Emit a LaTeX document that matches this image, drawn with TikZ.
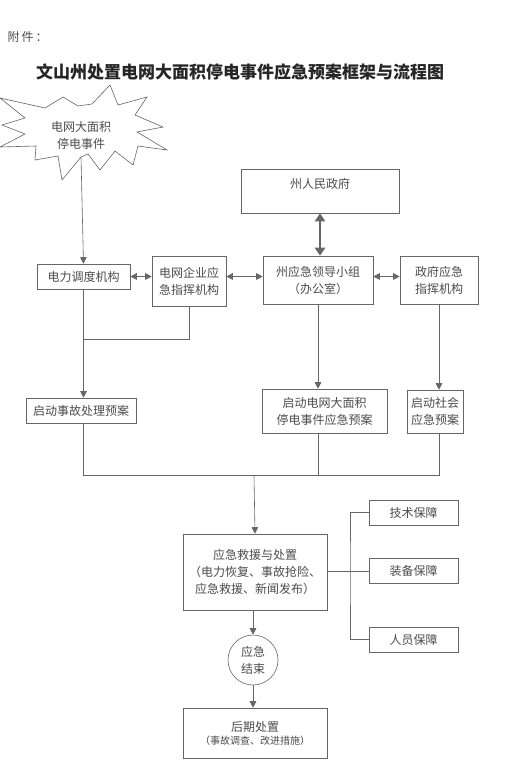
\documentclass[tikz,border=0pt]{standalone}
\usepackage{fontspec}
\newfontfamily\cjk{Noto Sans CJK SC}
\usetikzlibrary{arrows.meta}

\tikzset{
  box/.style={draw=black!60, line width=0.6pt, align=center, inner sep=0pt},
  link/.style={draw=black!60, line width=0.6pt},
  arr/.style={link, -{Triangle[width=6.5pt,length=6.5pt]}},
  biarr/.style={link, {Triangle[width=6.5pt,length=6.5pt]}-{Triangle[width=6.5pt,length=6.5pt]}},
}

\begin{document}
\begin{tikzpicture}[x=1pt, y=-1pt, font=\cjk\fontsize{12}{17}\selectfont, text=black!70]

    \useasboundingbox[fill=white] (0,0) rectangle (504,768);

    % Heading
    \node[anchor=west] (attach) at (4,37) {附\,件\,：};
    \node[font=\cjk\bfseries\fontsize{17}{20}\selectfont, text=black!85] (title) at (240,72) {文山州处置电网大面积停电事件应急预案框架与流程图};

    % Star for the event
    \draw[link, fill=white] (110,85) -- (118,105) -- (147,97) -- (135,115) -- (163,127) -- (137,132)
        -- (167,150) -- (138,146) -- (133,165) -- (115,151) -- (100,170) -- (88,154) -- (81,157)
        -- (62,180) -- (58,156) -- (35,160) -- (36,146) -- (0,147) -- (25,134) -- (2,125)
        -- (25,118) -- (0,98) -- (45,108) -- (63,97) -- (78,106) -- (92,104) -- cycle;
    \node[align=center] (event) at (81,135) {电网大面积\\停电事件};
    \coordinate (evt) at (81,157);

    % Command level
    \node[box, minimum width=93pt, minimum height=25pt] (dispatch) at (83.5,276.5) {电力调度机构};
    \node[box, minimum width=74pt, minimum height=50pt] (gridcmd) at (189,281) {电网企业应\\急指挥机构};
    \node[box, minimum width=110pt, minimum height=48pt] (leader) at (318,280) {州应急领导小组\\（办公室）};
    \node[box, minimum width=78pt, minimum height=48pt] (govcmd) at (439,280) {政府应急\\指挥机构};
    \node[box, minimum width=158pt, minimum height=44pt] (gov) at (320,191) {};
    \node (govtext) at (320,184) {州人民政府};

    \draw[arr] (evt) -- (dispatch.north);
    \draw[biarr] (dispatch.east) -- (dispatch.east -| gridcmd.west);
    \draw[biarr] (gridcmd.east |- dispatch.east) -- (leader.west |- dispatch.east);
    \draw[biarr] (leader.east |- dispatch.east) -- (govcmd.west |- dispatch.east);
    \draw[link, line width=2pt, {Triangle[width=10pt,length=8pt]}-{Triangle[width=10pt,length=8pt]}] (gov.south) -- (gov.south |- leader.north);

    % Plans
    \node[box, minimum width=110pt, minimum height=25pt] (plan1) at (81,410.5) {启动事故处理预案};
    \node[box, minimum width=125pt, minimum height=44pt] (plan2) at (324.5,411) {启动电网大面积\\停电事件应急预案};
    \node[box, minimum width=56pt, minimum height=43pt] (plan3) at (435,411.5) {启动社会\\应急预案};

    \coordinate (j1) at (83,339);
    \draw[link] (gridcmd.south) |- (j1);
    \draw[arr] (dispatch.south) -- (dispatch.south |- plan1.north);
    \draw[arr] (leader.south) -- (leader.south |- plan2.north);
    \draw[arr] (govcmd.south) -- (govcmd.south |- plan3.north);

    % Rescue and support
    \node[box, minimum width=144pt, minimum height=76pt] (rescue) at (255,572) {应急救援与处置\\（电力恢复、事故抢险、\\应急救援、新闻发布）};
    \node[box, minimum width=89pt, minimum height=25pt] (tech) at (413.5,512.5) {技术保障};
    \node[box, minimum width=89pt, minimum height=25pt] (equip) at (413.5,571) {装备保障};
    \node[box, minimum width=89pt, minimum height=25pt] (staff) at (413.5,639.5) {人员保障};

    \coordinate (j2) at (254,475);
    \draw[link] (dispatch.south |- plan1.south) |- (govcmd.south |- j2) -- (govcmd.south |- plan3.south);
    \draw[link] (leader.south |- plan2.south) -- (leader.south |- j2);
    \draw[arr] (j2) -- (rescue.north);

    \coordinate (j3) at (350,571);
    \draw[link] (rescue.east |- j3) -- (equip.west);
    \draw[link] (tech.west) -| (j3) |- (staff.west);

    % End of the emergency
    \node[draw=black!60, line width=0.6pt, circle, minimum size=50pt, inner sep=0pt, align=center] (endc) at (253,660) {应急\\结束};
    \node[box, minimum width=144pt, minimum height=50pt] (after) at (255,733) {后期处置\\[-4pt]{\fontsize{10}{12}\selectfont （事故调查、改进措施）}};

    \draw[arr] (rescue.south -| endc) -- (endc.north);
    \draw[arr] (endc.south) -- (endc.south |- after.north);

\end{tikzpicture}
\end{document}
